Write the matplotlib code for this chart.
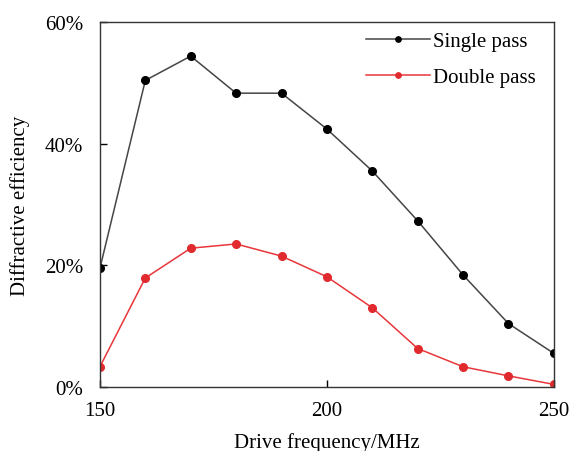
import matplotlib
matplotlib.use("Agg")
import matplotlib.pyplot as plt
from matplotlib.ticker import FuncFormatter

freq = [150, 160, 170, 180, 190, 200, 210, 220, 230, 240, 250]
single_pass = [19.5, 50.4, 54.4, 48.3, 48.3, 42.4, 35.5, 27.3, 18.4, 10.4, 5.5]
double_pass = [3.3, 17.9, 22.8, 23.5, 21.5, 18.1, 13.0, 6.3, 3.3, 1.8, 0.4]

plt.rcParams['font.family'] = ['Liberation Serif', 'DejaVu Serif']
plt.rcParams['font.size'] = 15

fig = plt.figure(figsize=(5.71, 4.52), dpi=100)
ax = fig.add_axes([0.175, 0.142, 0.795, 0.807])

ax.plot(freq, single_pass, color='#454545', lw=1.1, marker='o', ms=5.5,
        mfc='black', mec='black', label='Single pass')
ax.plot(freq, double_pass, color='#e8363a', lw=1.1, marker='o', ms=5.5,
        mfc='#e02a2e', mec='#e02a2e', label='Double pass')

ax.set_xlim(150, 250)
ax.set_ylim(0, 60)
ax.set_xticks([150, 200, 250])
ax.set_yticks([0, 20, 40, 60])
ax.yaxis.set_major_formatter(FuncFormatter(lambda v, p: f"{v:.0f}%"))
ax.tick_params(axis='y', direction='in', length=5, width=1, pad=12, labelsize=15)
ax.tick_params(axis='x', direction='in', length=5, width=1, pad=10, labelsize=15)
for s in ax.spines.values():
    s.set_linewidth(1)
    s.set_color('#333333')

ax.set_xlabel('Drive frequency/MHz', fontsize=15, labelpad=9)
ax.set_ylabel('Diffractive efficiency', fontsize=15, labelpad=11)

ax.legend(loc='upper left', bbox_to_anchor=(0.565, 1.0), frameon=False,
          fontsize=15, handlelength=3.1, handletextpad=0.15, borderaxespad=0,
          borderpad=0.45, labelspacing=0.8, markerscale=0.7)

fig.savefig('out.png', dpi=100)
